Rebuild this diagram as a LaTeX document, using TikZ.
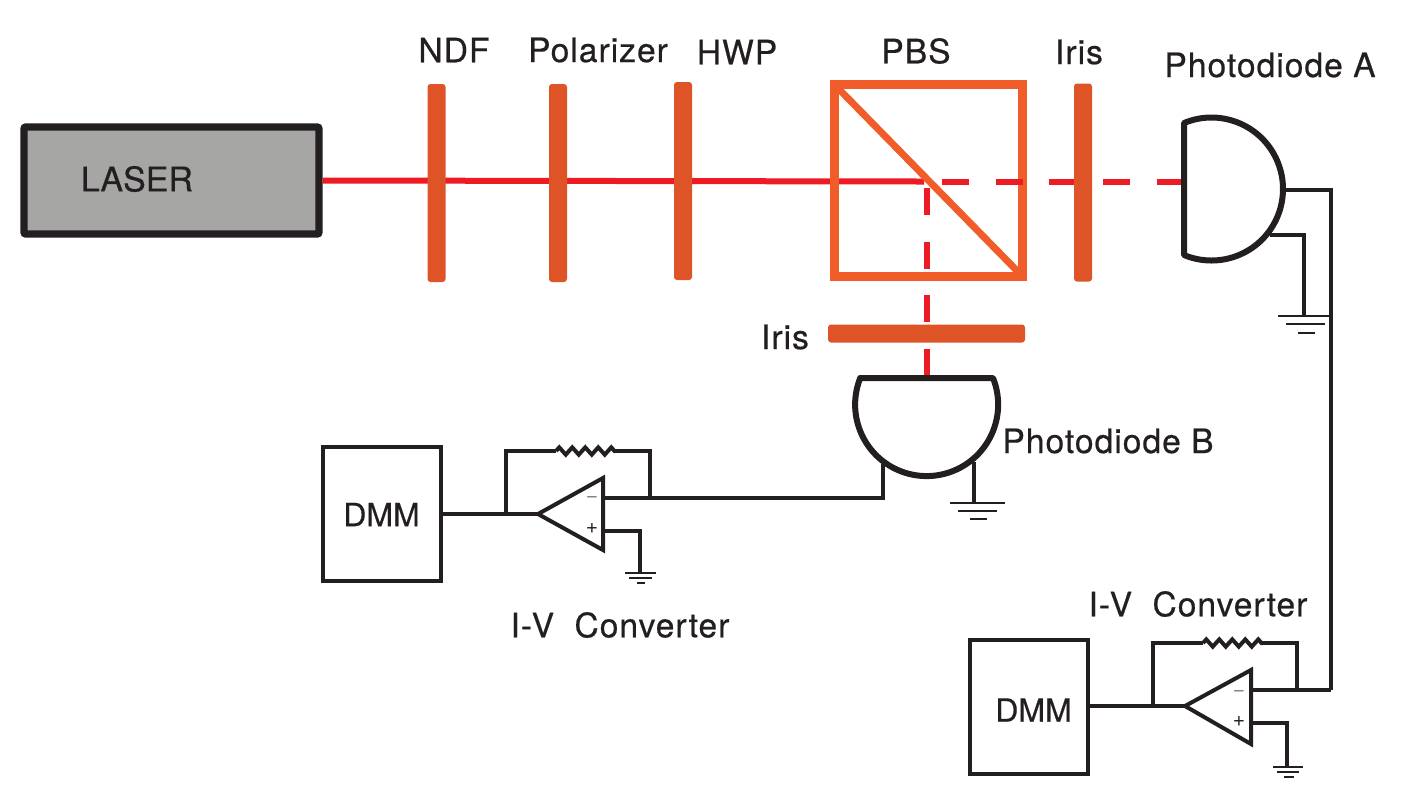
\documentclass[tikz,border=0pt]{standalone}
\usepackage{fontspec}
\setmainfont{TeX Gyre Heros}
\usepackage{tikz}
\usetikzlibrary{positioning}
\usetikzlibrary{decorations.pathmorphing}
\definecolor{inkdark}{HTML}{231F20}
\definecolor{beamred}{HTML}{ED1C24}
\definecolor{opticorange}{HTML}{DF5426}
\definecolor{cubeorange}{HTML}{F15D2A}
\definecolor{lasergray}{HTML}{A6A6A4}
\tikzset{
  lbl/.style={text=inkdark,inner sep=0pt,font=\fontsize{16.8}{18}\selectfont\addfontfeature{LetterSpace=3,FakeBold=0.5}},
  boxlbl/.style={text=inkdark,inner sep=0pt,font=\fontsize{16}{18}\selectfont\addfontfeature{FakeBold=0.5}},
  signlbl/.style={inner sep=0pt,font=\fontsize{10.5}{11}\selectfont},
  vplate/.style={fill=opticorange,rounded corners=1.5pt,inner sep=0pt,minimum width=9pt,minimum height=99pt},
  hplate/.style={fill=opticorange,rounded corners=1.5pt,inner sep=0pt,minimum width=98.5pt,minimum height=9pt},
  wire/.style={inkdark,line width=2pt,line join=miter},
  resist/.style={wire,decorate,decoration={zigzag,segment length=6.5pt,amplitude=1.8pt}},
  gndline/.style={inkdark,line width=1.1pt},
  beam/.style={beamred,line width=3pt},
  beamdash/.style={beam,dash pattern=on 13.5pt off 13.35pt},
  diode/.style={inkdark,line width=3pt,line join=round},
  dmmbox/.style={draw=inkdark,line width=2pt,inner sep=0pt,minimum width=59pt,minimum height=67pt}
}
\begin{document}
\begin{tikzpicture}[x=0.5pt,y=-0.5pt]
\useasboundingbox (0,0) rectangle (1401,811);
% beam and laser
\coordinate (split) at (924,181.5);
\coordinate (dashA) at (942,182);
\coordinate (beamA) at (1183,182);
\coordinate (dashB) at (927,188);
\coordinate (beamB) at (927,377);
\node[draw=inkdark,fill=lasergray,line width=3.7pt,rounded corners=1pt,inner sep=0pt,minimum width=147.5pt,minimum height=53.5pt] (laser) at (171.5,180.5) {};
\node[boxlbl,font=\fontsize{17}{18}\selectfont\addfontfeature{FakeBold=0.5}] (lasertxt) at (137,179) {LASER};
\draw[beam] (laser.east) -- (split);
% optics
\node[vplate] (ndf) at (436.5,183) {};
\node[vplate] (pol) at (558,183) {};
\node[vplate] (hwp) at (683,181) {};
\node[draw=cubeorange,line width=4.25pt,inner sep=0pt,minimum width=94pt,minimum height=96pt] (pbs) at (928.5,180.5) {};
\draw[cubeorange,line width=3.5pt,shorten >=2pt,shorten <=2pt] (pbs.north west) -- (pbs.south east);
\draw[beamdash] (dashA) -- (beamA);
\draw[beamdash] (dashB) -- (beamB);
\node[vplate] (irisA) at (1083,182.5) {};
\node[hplate] (irisB) at (926.5,333.5) {};
% labels
\node[lbl] (ndftxt) at (454,50) {NDF};
\node[lbl] (poltxt) at (598,50) {Polarizer};
\node[lbl] (hwptxt) at (737,52) {HWP};
\node[lbl] (pbstxt) at (916,51) {PBS};
\node[lbl] (irisAtxt) at (1079,52) {Iris};
\node[lbl] (irisBtxt) at (785,337) {Iris};
\node[lbl] (pdAtxt) at (1270,65) {Photodiode A};
\node[lbl] (pdBtxt) at (1108,441) {Photodiode B};
% photodiode A
\coordinate (pdAout) at (1284,190);
\coordinate (pdAgnd) at (1270,235);
\coordinate (gndA) at (1304,316);
\coordinate (busA) at (1331,690);
\draw[wire] (pdAout) -| (busA);
\draw[wire] (pdAgnd) -| (gndA);
\draw[gndline] (1278,316) -- (1333,316) (1286,324) -- (1325,324) (1298,333) -- (1315,333);
\draw[diode] (1184,123) arc[start angle=-112.6,end angle=112.6,radius=71.5] -- cycle;
% photodiode B
\coordinate (pdBout) at (883,464);
\coordinate (pdBgnd) at (974,462);
\coordinate (gndB) at (974,503);
\draw[wire] (pdBgnd) -- (gndB);
\draw[gndline] (950,503) -- (1005,503) (958,511) -- (997,511) (970,519) -- (987,519);
\draw[diode] (860,378) -- (993,378) arc[start angle=-21.8,end angle=201.8,radius=71.5] -- cycle;
% converter B
\node[dmmbox] (dmmB) at (381.5,514) {};
\node[boxlbl] (dmmBtxt) at (381.5,514.5) {DMM};
\coordinate (ampBtip) at (538,514);
\coordinate (ampBtop) at (603,478);
\coordinate (ampBbot) at (603,550);
\coordinate (ampBm) at (603,498);
\coordinate (ampBp) at (603,531);
\coordinate (fbBin) at (506,514);
\coordinate (fbBout) at (650,498);
\coordinate (resBa) at (556,451);
\coordinate (resBb) at (615,451);
\coordinate (gndBamp) at (640,573);
\draw[wire] (dmmB) -- (ampBtip);
\draw[wire] (ampBtip) -- (ampBtop) -- (ampBbot) -- cycle;
\draw[wire] (ampBm) -- (fbBout) -- (fbBout -| pdBout) -- (pdBout);
\draw[wire] (fbBin) |- (resBa);
\draw[resist] (resBa) -- (resBb);
\draw[wire] (resBb) -| (fbBout);
\draw[wire] (ampBp) -| (gndBamp);
\draw[gndline] (625,573) -- (656,573) (629,578) -- (652,578) (637,583) -- (645,583);
\node[signlbl,text=gray] (ampBminus) at (592,499) {−};
\node[signlbl,text=inkdark] (ampBplus) at (592,529) {+};
\node[lbl] (convBtxt) at (620,625) {I-V\hspace{0.3em} Converter};
% converter A
\node[dmmbox] (dmmA) at (1028.5,707) {};
\node[boxlbl] (dmmAtxt) at (1033.5,710) {DMM};
\coordinate (ampAtip) at (1185,706);
\coordinate (ampAtop) at (1251,670);
\coordinate (ampAbot) at (1251,744);
\coordinate (ampAm) at (1251,690);
\coordinate (ampAp) at (1251,723);
\coordinate (fbAin) at (1153,706);
\coordinate (fbAout) at (1297,690);
\coordinate (resAa) at (1203,643);
\coordinate (resAb) at (1263,643);
\coordinate (gndAamp) at (1287,767);
\draw[wire] (dmmA.east |- ampAtip) -- (ampAtip);
\draw[wire] (ampAtip) -- (ampAtop) -- (ampAbot) -- cycle;
\draw[wire] (ampAm) -- (busA);
\draw[wire] (fbAin) |- (resAa);
\draw[resist] (resAa) -- (resAb);
\draw[wire] (resAb) -| (fbAout);
\draw[wire] (ampAp) -| (gndAamp);
\draw[gndline] (1273,767) -- (1303,767) (1277,772) -- (1299,772) (1284,777) -- (1294,777);
\node[signlbl,text=gray] (ampAminus) at (1239,693) {−};
\node[signlbl,text=inkdark] (ampAplus) at (1239,722) {+};
\node[lbl] (convAtxt) at (1198,604) {I-V\hspace{0.3em} Converter};
\end{tikzpicture}
\end{document}
